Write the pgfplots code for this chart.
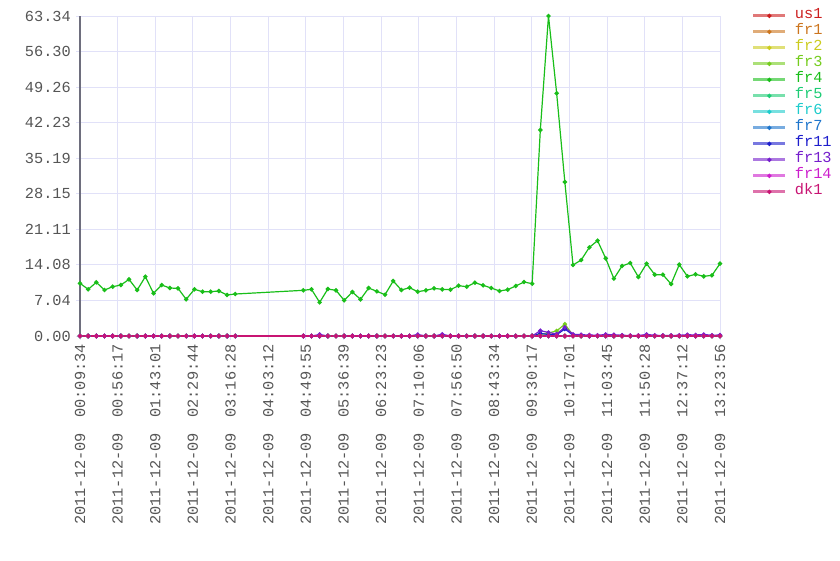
\documentclass[border=0pt]{standalone}
\usepackage{pgfplots}
\pgfplotsset{compat=1.18}
\usepackage{pgfplotstable}
\usepackage{fontspec}
\setmainfont{Liberation Mono}

\definecolor{cus1}{RGB}{204,30,30}
\definecolor{cfr1}{RGB}{204,117,30}
\definecolor{cfr2}{RGB}{204,204,30}
\definecolor{cfr3}{RGB}{117,204,30}
\definecolor{cfr4}{RGB}{25,190,25}
\definecolor{cfr5}{RGB}{30,204,117}
\definecolor{cfr6}{RGB}{30,204,204}
\definecolor{cfr7}{RGB}{30,117,204}
\definecolor{cfr11}{RGB}{30,30,204}
\definecolor{cfr13}{RGB}{117,30,204}
\definecolor{cfr14}{RGB}{204,30,204}
\definecolor{cdk1}{RGB}{200,20,115}
\definecolor{gridc}{RGB}{225,225,248}
\definecolor{axisc}{RGB}{110,110,125}
\definecolor{tickc}{RGB}{85,85,85}

% t = minutes after midnight, 2011-12-09
\pgfplotstableread{
t us1 fr1 fr2 fr3 fr4 fr5 fr6 fr7 fr11 fr13 fr14 dk1
9.57 0 0 0 0 10.43 0 0 0 0 0 0 0
19.71 0 0 0 0 9.24 0 0 0 0 0 0 0
29.85 0 0 0 0 10.62 0 0 0 0 0 0 0
39.99 0 0 0 0 9.10 0 0 0 0 0 0 0
50.13 0 0 0 0 9.76 0 0 0 0 0 0 0
60.27 0 0 0 0 10.09 0 0 0 0 0 0 0
70.41 0 0 0 0 11.21 0 0 0 0 0 0 0
80.55 0 0 0 0 9.10 0 0 0 0 0 0 0
90.69 0 0 0 0 11.74 0 0 0 0 0 0 0
100.83 0 0 0 0 8.45 0 0 0 0 0 0 0
110.97 0 0 0 0 10.09 0 0 0 0 0 0 0
121.11 0 0 0 0 9.50 0 0 0 0 0 0 0
131.25 0 0 0 0 9.43 0 0 0 0 0 0 0
141.39 0 0 0 0 7.26 0 0 0 0 0 0 0
151.53 0 0 0 0 9.24 0 0 0 0 0 0 0
161.67 0 0 0 0 8.77 0 0 0 0 0 0 0
171.81 0 0 0 0 8.77 0 0 0 0 0 0 0
181.95 0 0 0 0 8.91 0 0 0 0 0 0 0
192.09 0 0 0 0 8.12 0 0 0 0 0 0 0
202.23 0 0 0 0 8.31 0 0 0 0 0 0 0
286.73 0 0 0 0 9.04 0 0 0 0 0 0 0
296.87 0 0 0 0 9.24 0 0 0 0 0 0 0
307.02 0 0 0 0 6.66 0 0 0 0 0.30 0 0
317.16 0 0 0 0 9.30 0 0 0 0 0 0 0
327.31 0 0 0 0 9.04 0 0 0 0 0 0 0
337.45 0 0 0 0 7.06 0 0 0 0 0 0 0
347.59 0 0 0 0 8.71 0 0 0 0 0 0 0
357.74 0 0 0 0 7.26 0 0 0 0 0 0 0
367.88 0 0 0 0 9.50 0 0 0 0 0 0 0
378.03 0 0 0 0 8.84 0 0 0 0 0 0 0
388.17 0 0 0 0 8.18 0 0 0 0 0 0 0
398.31 0 0 0 0 10.89 0 0 0 0 0 0 0
408.46 0 0 0 0 9.10 0 0 0 0 0 0 0
418.60 0 0 0 0 9.57 0 0 0 0 0 0 0
428.74 0 0 0 0 8.77 0 0 0 0 0.30 0 0
438.89 0 0 0 0 9.04 0 0 0 0 0 0 0
449.03 0 0 0 0 9.43 0 0 0 0 0 0 0
459.18 0 0 0 0 9.24 0 0 0 0 0.35 0 0
469.32 0 0 0 0 9.17 0 0 0 0 0 0 0
479.47 0 0 0 0 9.96 0 0 0 0 0 0 0
489.61 0 0 0 0 9.76 0 0 0 0 0 0 0
499.75 0 0 0 0 10.56 0 0 0 0 0 0 0
509.90 0 0 0 0 10.03 0 0 0 0 0 0 0
520.04 0 0 0 0 9.50 0 0 0 0 0 0 0
530.19 0 0 0 0 8.91 0 0 0 0 0 0 0
540.33 0 0 0 0 9.17 0 0 0 0 0 0 0
550.47 0 0 0 0 9.90 0 0 0 0 0 0 0
560.62 0 0 0 0 10.69 0 0 0 0 0 0 0
570.76 0 0 0 0.05 10.36 0 0 0 0 0 0 0
580.91 0 0 0 0.30 40.78 0 0 0 0.50 1.05 0 0
591.05 0 0 0 0.60 63.34 0 0 0 0.30 0.70 0 0
601.19 0 0 0 1.00 48.04 0 0 0 0.25 0.40 0 0
611.34 0 0 0 2.35 30.48 0 0 0 1.40 1.72 0 0
621.48 0 0 0 0.15 14.05 0 0 0 0.20 0.35 0 0
631.63 0 0 0 0 15.04 0 0 0 0.15 0.25 0 0
641.77 0 0 0 0 17.55 0 0 0 0 0.20 0 0
651.91 0 0 0 0 18.87 0 0 0 0.10 0.15 0 0
662.06 0 0 0 0 15.37 0 0 0 0 0.30 0 0
672.20 0 0 0 0 11.35 0 0 0 0 0.25 0 0
682.34 0 0 0 0 13.86 0 0 0 0 0.15 0 0
692.49 0 0 0 0 14.45 0 0 0 0 0.10 0 0
702.63 0 0 0 0 11.68 0 0 0 0 0.10 0 0
712.78 0 0 0 0 14.32 0 0 0 0.15 0.30 0 0
722.92 0 0 0 0 12.14 0 0 0 0 0.15 0 0
733.06 0 0 0 0 12.14 0 0 0 0 0.10 0 0
743.21 0 0 0 0 10.29 0 0 0 0 0.10 0 0
753.35 0 0 0 0 14.12 0 0 0 0 0.15 0 0
763.50 0 0 0 0 11.81 0 0 0 0.10 0.25 0 0
773.64 0 0 0 0 12.21 0 0 0 0 0.20 0 0
783.78 0 0 0 0 11.81 0 0 0 0 0.30 0 0
793.93 0 0 0 0 12.01 0 0 0 0 0.15 0 0
803.93 0 0 0 0 14.32 0 0 0 0 0.20 0 0
}\data

\newcommand{\tf}{\fontsize{15.3}{18}\selectfont}

\begin{document}
\begin{tikzpicture}
\useasboundingbox (0,0) rectangle (840pt,560pt);
\begin{axis}[
  at={(80pt,224pt)}, anchor=south west,
  width=640pt, height=320pt, scale only axis,
  xmin=9.567, xmax=803.933, ymin=0, ymax=63.34,
  axis x line*=bottom, axis y line*=left,
  x axis line style={draw=gridc, line width=1pt},
  y axis line style={draw=axisc, line width=2pt},
  grid=major,
  major grid style={draw=gridc, line width=1pt},
  tick style={draw=gridc, line width=1pt},
  tick align=outside, major tick length=4pt,
  xtick={9.567,56.283,103.017,149.733,196.467,243.2,289.917,336.65,383.383,430.1,476.833,523.567,570.283,617.017,663.75,710.467,757.2,803.933},
  xticklabels={
    2011-12-09\hspace{1em}00:09:34,
    2011-12-09\hspace{1em}00:56:17,
    2011-12-09\hspace{1em}01:43:01,
    2011-12-09\hspace{1em}02:29:44,
    2011-12-09\hspace{1em}03:16:28,
    2011-12-09\hspace{1em}04:03:12,
    2011-12-09\hspace{1em}04:49:55,
    2011-12-09\hspace{1em}05:36:39,
    2011-12-09\hspace{1em}06:23:23,
    2011-12-09\hspace{1em}07:10:06,
    2011-12-09\hspace{1em}07:56:50,
    2011-12-09\hspace{1em}08:43:34,
    2011-12-09\hspace{1em}09:30:17,
    2011-12-09\hspace{1em}10:17:01,
    2011-12-09\hspace{1em}11:03:45,
    2011-12-09\hspace{1em}11:50:28,
    2011-12-09\hspace{1em}12:37:12,
    2011-12-09\hspace{1em}13:23:56},
  ytick={0,7.04,14.08,21.11,28.15,35.19,42.23,49.26,56.30,63.34},
  yticklabels={0.00,7.04,14.08,21.11,28.15,35.19,42.23,49.26,56.30,63.34},
  xticklabel shift={4pt}, yticklabel shift={5pt},
  xticklabel style={rotate=90, anchor=east, font=\tf, text=tickc, inner sep=0pt},
  yticklabel style={font=\tf, text=tickc, inner sep=0pt},
  every axis plot/.append style={line width=1.2pt, mark=*, mark size=1.6pt},
  legend style={at={(1.0495,1.026)}, anchor=north west, draw=none, fill=none,
    inner sep=0pt, row sep=0pt, column sep=8pt,
    nodes={inner sep=0pt, text height=11pt, text depth=5pt, font=\tf}},
  legend cell align=left,
  legend image code/.code={
    \draw[#1, draw opacity=0.6, line width=3pt] (0pt,0pt) -- (32pt,0pt);
    \draw[#1] plot coordinates {(16pt,0pt)};
  },
]
\addplot[color=cus1] table[x=t,y=us1]{\data}; \addlegendentry{\textcolor{cus1}{us1}}
\addplot[color=cfr1] table[x=t,y=fr1]{\data}; \addlegendentry{\textcolor{cfr1}{fr1}}
\addplot[color=cfr2] table[x=t,y=fr2]{\data}; \addlegendentry{\textcolor{cfr2}{fr2}}
\addplot[color=cfr3] table[x=t,y=fr3]{\data}; \addlegendentry{\textcolor{cfr3}{fr3}}
\addplot[color=cfr4] table[x=t,y=fr4]{\data}; \addlegendentry{\textcolor{cfr4}{fr4}}
\addplot[color=cfr5] table[x=t,y=fr5]{\data}; \addlegendentry{\textcolor{cfr5}{fr5}}
\addplot[color=cfr6] table[x=t,y=fr6]{\data}; \addlegendentry{\textcolor{cfr6}{fr6}}
\addplot[color=cfr7] table[x=t,y=fr7]{\data}; \addlegendentry{\textcolor{cfr7}{fr7}}
\addplot[color=cfr11] table[x=t,y=fr11]{\data}; \addlegendentry{\textcolor{cfr11}{fr11}}
\addplot[color=cfr13] table[x=t,y=fr13]{\data}; \addlegendentry{\textcolor{cfr13}{fr13}}
\addplot[color=cfr14] table[x=t,y=fr14]{\data}; \addlegendentry{\textcolor{cfr14}{fr14}}
\addplot[color=cdk1] table[x=t,y=dk1]{\data}; \addlegendentry{\textcolor{cdk1}{dk1}}
\end{axis}
\end{tikzpicture}
\end{document}
